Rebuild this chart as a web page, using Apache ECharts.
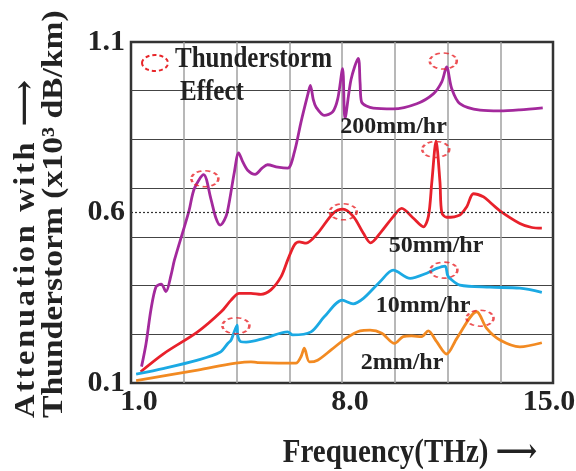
<!DOCTYPE html>
<html>
<head>
<meta charset="utf-8">
<script src="https://cdn.jsdelivr.net/npm/echarts@6/dist/echarts.min.js"></script>
<style>
  html, body { margin: 0; padding: 0; background: #fff; }
  #chart { width: 576px; height: 471px; }
</style>
</head>
<body>
<div id="chart"></div>
<script>
// Axis ticks and grid lines
const xTickLabels = [1, 8, 15];
const yTickLabels = [0.1, 0.6, 1.1];
const xGridLines = [2.75, 4.5, 6.25, 8, 9.75, 11.5, 13.25];
const yGridLines = [0.2429, 0.3857, 0.5286, 0.6714, 0.8143, 0.9571];
const dottedLevel = 0.6;

// Attenuation curves: [frequency (THz), attenuation (x10^3 dB/km)]
const rain200 = [
  [1.35,0.148],[1.5,0.216],[1.66,0.314],[1.83,0.382],[2.0,0.39],[2.16,0.368],[2.33,0.417],
  [2.44,0.46],[2.77,0.558],[2.93,0.607],[3.1,0.67],[3.41,0.711],[3.65,0.64],[3.82,0.583],
  [3.96,0.563],[4.15,0.588],[4.26,0.631],[4.43,0.719],[4.57,0.775],[4.7,0.75],[4.87,0.724],
  [5.12,0.712],[5.35,0.73],[5.53,0.74],[5.87,0.733],[6.2,0.73],[6.42,0.777],[6.64,0.865],
  [6.86,0.944],[6.95,0.973],[7.05,0.93],[7.14,0.909],[7.41,0.885],[7.69,0.895],[7.86,0.934],
  [8.02,1.022],[8.1,0.876],[8.3,0.99],[8.54,1.052],[8.6,0.98],[8.65,0.924],[9.04,0.906],
  [9.7,0.904],[10.48,0.919],[11.03,0.948],[11.31,0.983],[11.47,1.027],[11.64,0.963],
  [11.91,0.919],[12.58,0.9],[13.24,0.898],[13.9,0.901],[14.66,0.907]
];
const rain50 = [
  [1.32,0.133],[2.1,0.187],[3.21,0.25],[3.99,0.309],[4.32,0.343],[4.59,0.363],[4.98,0.363],
  [5.31,0.36],[5.64,0.373],[5.98,0.412],[6.2,0.461],[6.42,0.505],[6.58,0.514],[6.81,0.51],
  [7.19,0.539],[7.71,0.598],[8.03,0.61],[8.38,0.588],[8.71,0.539],[8.95,0.511],[9.26,0.539],
  [9.7,0.588],[9.98,0.612],[10.37,0.583],[10.7,0.558],[10.87,0.59],[10.98,0.689],[11.12,0.809],
  [11.25,0.689],[11.31,0.6],[11.47,0.586],[11.91,0.593],[12.14,0.617],[12.36,0.655],
  [12.69,0.646],[12.91,0.63],[13.24,0.605],[13.9,0.568],[14.3,0.556],[14.63,0.554]
];
const rain10 = [
  [1.17,0.126],[2.1,0.143],[3.21,0.167],[3.95,0.19],[4.21,0.216],[4.32,0.226],[4.52,0.27],
  [4.54,0.24],[4.65,0.221],[4.82,0.22],[5.42,0.231],[6.2,0.25],[6.36,0.241],[6.97,0.25],
  [7.41,0.294],[8.01,0.343],[8.37,0.332],[8.71,0.348],[9.26,0.397],[9.7,0.431],[10.26,0.407],
  [10.81,0.422],[11.14,0.436],[11.42,0.443],[11.5,0.417],[11.58,0.407],[11.91,0.387],
  [12.91,0.381],[13.9,0.378],[14.63,0.366]
];
const rain2 = [
  [1.17,0.107],[3.21,0.138],[4.98,0.162],[5.2,0.16],[6.47,0.158],[6.64,0.177],[6.75,0.202],
  [6.92,0.162],[7.19,0.167],[7.64,0.197],[8.13,0.231],[8.6,0.253],[8.93,0.255],[9.32,0.246],
  [9.74,0.216],[10.03,0.236],[10.31,0.238],[10.64,0.236],[10.86,0.253],[11.14,0.221],
  [11.47,0.185],[11.81,0.231],[12.47,0.309],[12.8,0.26],[13.24,0.226],[13.9,0.206],[14.63,0.218]
];
// Peaks marked as thunderstorm effect
const effectPoints = [
  [3.45,0.699],[11.36,1.044],[8.04,0.602],[11.11,0.785],[4.48,0.268],[11.38,0.431],[12.58,0.29]
];
const seriesNames = ['200mm/hr', '50mm/hr', '10mm/hr', '2mm/hr'];

const FONT = '"Liberation Serif", "Times New Roman", "DejaVu Serif", serif';
const TEXT = '#222';
const EFFECT_RED = '#e8262a';
const HAIR = '\u200A';

// Spread letters of a title line apart with hair spaces
function spaced(str) {
  return str.split('').join(HAIR);
}

function curve(name, data, color, labelAt) {
  return {
    name: name,
    type: 'line',
    data: data,
    showSymbol: false,
    smooth: 0.3,
    lineStyle: { color: color, width: 2.8 },
    itemStyle: { color: color },
    z: 3,
    markPoint: {
      symbol: 'circle',
      symbolSize: 0,
      silent: true,
      label: {
        show: true, position: 'inside', formatter: name,
        fontFamily: FONT, fontWeight: 'bold', fontSize: 24, color: TEXT
      },
      data: [{ coord: labelAt }]
    }
  };
}

const tickFont = { fontFamily: FONT, fontWeight: 'bold', fontSize: 30, color: TEXT };

const chart = echarts.init(document.getElementById('chart'));
chart.setOption({
  animation: false,
  backgroundColor: '#fff',
  grid: {
    left: 131, right: 23, top: 42, bottom: 88,
    outerBoundsMode: 'none', containLabel: false,
    show: true, borderColor: '#333', borderWidth: 2.5
  },
  xAxis: {
    type: 'value', min: 1, max: 15,
    axisLine: { show: false },
    axisTick: { show: false, customValues: xGridLines },
    axisLabel: Object.assign({
      customValues: xTickLabels,
      formatter: v => (v === 15 ? '{e|' : '{s|') + v.toFixed(1) + '}',
      alignMinLabel: 'center', alignMaxLabel: 'center',
      margin: 4,
      rich: {
        s: Object.assign({ padding: [0, 0, 0, 16] }, tickFont),
        e: Object.assign({ padding: [0, 8, 0, 0] }, tickFont)
      }
    }, tickFont),
    splitLine: { show: true, lineStyle: { color: '#a0a0a0', width: 1.5 } }
  },
  yAxis: {
    type: 'value', min: 0.1, max: 1.1,
    axisLine: { show: false },
    axisTick: { show: false, customValues: yGridLines },
    axisLabel: Object.assign({
      customValues: yTickLabels, formatter: v => v.toFixed(1), margin: 6
    }, tickFont),
    splitLine: { show: true, lineStyle: { color: '#444', width: 1 } }
  },
  series: [
    Object.assign(curve(seriesNames[0], rain200, '#a3299c', [9.71, 0.851]), {
      markLine: {
        silent: true, symbol: ['none', 'none'],
        label: { show: false },
        lineStyle: { type: [2, 2], color: '#333', width: 1.2 },
        data: [{ yAxis: dottedLevel }]
      }
    }),
    curve(seriesNames[1], rain50, '#e8212b', [11.12, 0.502]),
    curve(seriesNames[2], rain10, '#1ba9e3', [10.69, 0.326]),
    curve(seriesNames[3], rain2, '#f28a22', [9.99, 0.159]),
    {
      name: 'Thunderstorm Effect',
      type: 'scatter',
      data: effectPoints,
      symbol: 'circle',
      symbolSize: [27, 16],
      z: 5,
      itemStyle: {
        color: 'rgba(0,0,0,0)', borderColor: EFFECT_RED,
        borderWidth: 2, borderType: [4, 3]
      }
    }
  ],
  graphic: [
    {
      type: 'ellipse', shape: { cx: 155, cy: 63, rx: 13, ry: 8 },
      style: { fill: 'none', stroke: EFFECT_RED, lineWidth: 2, lineDash: [4, 3] }, z: 10
    },
    {
      type: 'text', x: 175, y: 59, scaleY: 1.2,
      style: { text: 'Thunderstorm', font: 'bold 25px ' + FONT, fill: TEXT, textVerticalAlign: 'middle' }, z: 10
    },
    {
      type: 'text', x: 180, y: 92, scaleY: 1.2,
      style: { text: 'Effect', font: 'bold 25px ' + FONT, fill: TEXT, textVerticalAlign: 'middle' }, z: 10
    },
    {
      type: 'text', x: 410, y: 453, scaleY: 1.15,
      style: { text: 'Frequency(THz) \u27F6', font: 'bold 29px ' + FONT, fill: TEXT,
               textAlign: 'center', textVerticalAlign: 'middle' }
    },
    {
      type: 'text', x: 26, y: 418, rotation: Math.PI / 2, scaleX: 1.08,
      style: { text: spaced('Attenuation with') + '  \u27F6', font: 'bold 30px ' + FONT, fill: TEXT,
               textAlign: 'left', textVerticalAlign: 'middle' }
    },
    {
      type: 'text', x: 54, y: 418, rotation: Math.PI / 2, scaleX: 1.12,
      style: { text: 'Thunderstorm (x10\u00B3 dB/km)', font: 'bold 30px ' + FONT, fill: TEXT,
               textAlign: 'left', textVerticalAlign: 'middle' }
    }
  ]
});
</script>
</body>
</html>
